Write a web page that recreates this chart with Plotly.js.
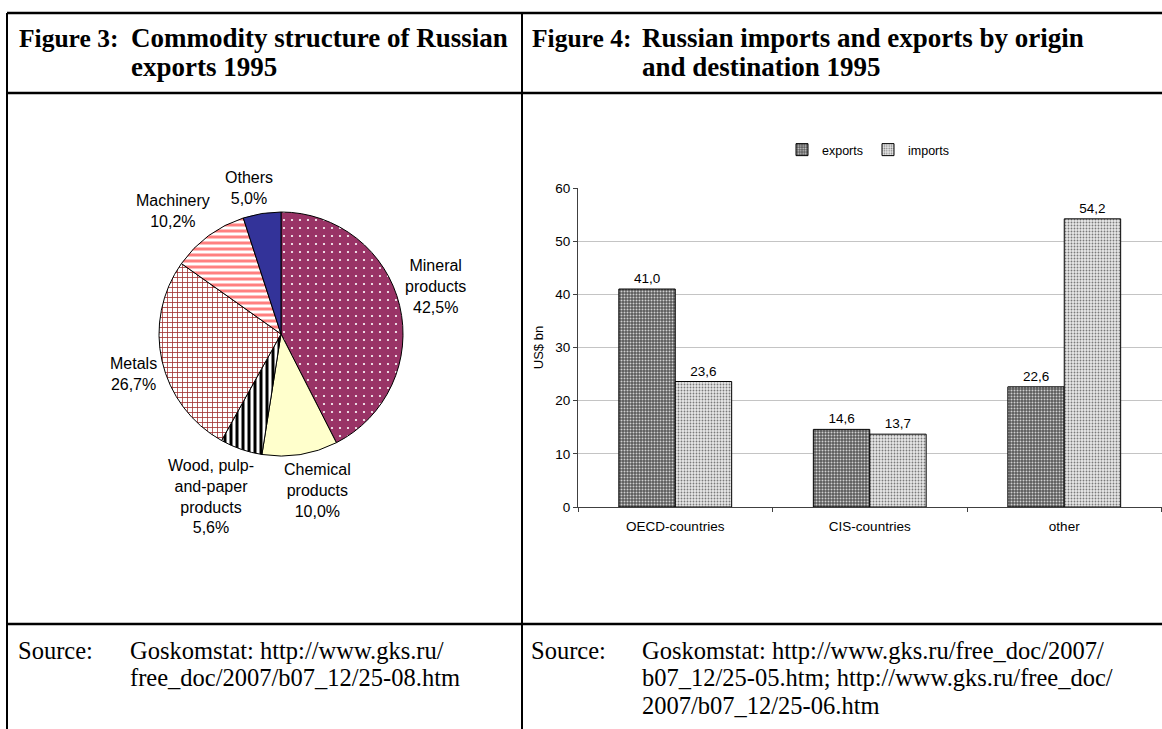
<!DOCTYPE html>
<html>
<head>
<meta charset="utf-8">
<script src="https://cdn.plot.ly/plotly-3.0.1.min.js"></script>
<style>
  html, body { margin: 0; padding: 0; background: #ffffff; }
  #chart { width: 1162px; height: 729px; }
</style>
</head>
<body>
<div id="chart"></div>
<script>
// ---------- data ----------
const pieLabels = ['Mineral<br>products', 'Chemical<br>products', 'Wood, pulp-<br>and-paper<br>products', 'Metals', 'Machinery', 'Others'];
const pieValues = [42.5, 10.0, 5.6, 26.7, 10.2, 5.0];

const barCategories = ['OECD-countries', 'CIS-countries', 'other'];
const exportsValues = [41.0, 14.6, 22.6];
const importsValues = [23.6, 13.7, 54.2];

const headerLeft = ['Figure 3:', 'Commodity structure of Russian', 'exports 1995'];
const headerRight = ['Figure 4:', 'Russian imports and exports by origin', 'and destination 1995'];
const sourceLeft = ['Source:', 'Goskomstat: http://www.gks.ru/', 'free_doc/2007/b07_12/25-08.htm'];
const sourceRight = ['Source:', 'Goskomstat: http://www.gks.ru/free_doc/2007/', 'b07_12/25-05.htm; http://www.gks.ru/free_doc/', '2007/b07_12/25-06.htm'];

// ---------- helpers ----------
const W = 1162, H = 729;
const px = x => x / W;
const py = y => 1 - y / H;
const comma = v => v.toFixed(1).replace('.', ',');

const SANS = 'Liberation Sans, Arial, sans-serif';
const SERIF = 'Liberation Serif, Times New Roman, serif';
const ctx = document.createElement('canvas').getContext('2d');

// pie geometry (pixels)
const PIE_CX = 281, PIE_CY = 334, PIE_R = 122;
const PIE_FONT = 16, PIE_LINE = 21;

// ---------- traces ----------
const pie = {
  type: 'pie',
  labels: pieLabels,
  values: pieValues,
  textinfo: 'none',
  sort: false,
  direction: 'clockwise',
  rotation: 0,
  showlegend: false,
  hoverinfo: 'skip',
  domain: { x: [px(PIE_CX - PIE_R), px(PIE_CX + PIE_R)], y: [py(PIE_CY + PIE_R), py(PIE_CY - PIE_R)] },
  marker: {
    colors: ['#993366', '#FFFFCC', '#ffffff', '#ffffff', '#ffffff', '#333399'],
    line: { color: '#000', width: 1 },
    pattern: {
      shape: ['.', '', '|', '+', '-', ''],
      bgcolor: ['#993366', '#FFFFCC', '#ffffff', '#ffffff', '#ffffff', '#333399'],
      fgcolor: ['#ffffff', '#FFFFCC', '#000000', '#a33333', '#ff8080', '#333399'],
      size: [8, 8, 6, 5, 6, 8],
      solidity: [0.06, 0.3, 0.5, 0.3, 0.5, 0.3],
      fillmode: 'replace'
    }
  }
};

const barExports = {
  type: 'bar',
  name: 'exports',
  x: barCategories,
  y: exportsValues,
  text: exportsValues.map(comma),
  texttemplate: '%{text}',
  textposition: 'outside',
  cliponaxis: false,
  textfont: { family: SANS, size: 13.5, color: '#000' },
  hoverinfo: 'skip',
  marker: {
    color: '#6e6e6e',
    line: { color: '#000', width: 1 },
    pattern: { shape: '.', bgcolor: '#5a5a5a', fgcolor: '#d0d0d0', size: 3, solidity: 0.35, fillmode: 'replace' }
  }
};

const barImports = {
  type: 'bar',
  name: 'imports',
  x: barCategories,
  y: importsValues,
  text: importsValues.map(comma),
  texttemplate: '%{text}',
  textposition: 'outside',
  cliponaxis: false,
  textfont: { family: SANS, size: 13.5, color: '#000' },
  hoverinfo: 'skip',
  marker: {
    color: '#cccccc',
    line: { color: '#000', width: 1 },
    pattern: { shape: '.', bgcolor: '#e8e8e8', fgcolor: '#7a7a7a', size: 3, solidity: 0.3, fillmode: 'replace' }
  }
};

// ---------- pie labels placed from slice mid-angles (label box just outside the rim) ----------
ctx.font = PIE_FONT + 'px "Liberation Sans", Arial, sans-serif';
const total = pieValues.reduce((a, b) => a + b, 0);
const shapeFn = x => Math.sign(x) * Math.pow(Math.abs(x), 0.38);
const pieAnnotations = [];
let cum = 0;
pieValues.forEach((v, i) => {
  const mid = (cum + v / 2) / total * 2 * Math.PI;
  cum += v;
  const lines = (pieLabels[i] + '<br>' + comma(v) + '%').split('<br>');
  const hw = Math.max(...lines.map(l => ctx.measureText(l).width)) / 2;
  const hh = lines.length * PIE_LINE / 2;
  const s = Math.sin(mid), c = Math.cos(mid);
  const m = Math.max(Math.abs(s), Math.abs(c));
  const rr = PIE_R + 5;
  const cx = PIE_CX + rr * s + hw * shapeFn(s / m);
  const cy = PIE_CY - rr * c - hh * shapeFn(c / m);
  pieAnnotations.push({
    text: lines.join('<br>'), xref: 'paper', yref: 'paper',
    x: px(cx), y: py(cy),
    xanchor: 'center', yanchor: 'middle', align: 'center', showarrow: false,
    font: { family: SANS, size: PIE_FONT, color: '#000' }
  });
});

// ---------- table frame ----------
function hline(y, w) {
  return { type: 'line', xref: 'paper', yref: 'paper', x0: px(7), x1: 1.01, y0: py(y), y1: py(y), line: { color: '#000', width: w } };
}
function vline(x, w) {
  return { type: 'line', xref: 'paper', yref: 'paper', x0: px(x), x1: px(x), y0: py(13), y1: -0.01, line: { color: '#000', width: w } };
}
const shapes = [hline(13, 2.5), hline(93, 2.5), hline(624, 2.5), vline(7, 2), vline(522, 2)];

// ---------- text annotations ----------
function txt(s, x, y, size, bold) {
  return {
    text: s, xref: 'paper', yref: 'paper', x: px(x), y: py(y),
    xanchor: 'left', yanchor: 'middle', showarrow: false,
    font: { family: SERIF, size: size, color: '#000', weight: bold ? 'bold' : 'normal' }
  };
}
const FF = 25.5, HF = 27, SF = 24.5;
const SY = [650, 677.5, 705];
const annotations = [
  txt(headerLeft[0], 17, 38, FF, true),
  txt(headerLeft[1], 129, 38, HF, true),
  txt(headerLeft[2], 129, 67, HF, true),
  txt(headerRight[0], 530, 38, FF, true),
  txt(headerRight[1], 640, 38, HF, true),
  txt(headerRight[2], 640, 67, HF, true),
  txt(sourceLeft[0], 16, SY[0], SF, false),
  txt(sourceLeft[1], 128, SY[0], SF, false),
  txt(sourceLeft[2], 128, SY[1], SF, false),
  txt(sourceRight[0], 529, SY[0], SF, false),
  txt(sourceRight[1], 640, SY[0], SF, false),
  txt(sourceRight[2], 640, SY[1], SF, false),
  txt(sourceRight[3], 640, SY[2], SF, false)
].concat(pieAnnotations);

// ---------- layout ----------
const layout = {
  width: W, height: H,
  margin: { l: 0, r: 0, t: 0, b: 0 },
  paper_bgcolor: '#ffffff',
  plot_bgcolor: '#ffffff',
  font: { family: SANS, color: '#000' },
  barmode: 'group',
  bargap: 0.42,
  bargroupgap: 0,
  showlegend: true,
  legend: {
    orientation: 'h', x: px(868), y: py(150), xanchor: 'center', yanchor: 'middle',
    font: { family: SANS, size: 12.5, color: '#000' },
    itemwidth: 30, bgcolor: 'rgba(0,0,0,0)', traceorder: 'normal'
  },
  xaxis: {
    domain: [px(578), px(1161.5)],
    type: 'category',
    tickson: 'boundaries',
    ticks: 'outside', ticklen: 4, tickcolor: '#404040',
    showline: true, linecolor: '#404040', linewidth: 1,
    tickfont: { family: SANS, size: 13.5, color: '#000' },
    ticklabelstandoff: 7,
    showgrid: false, zeroline: false, fixedrange: true
  },
  yaxis: {
    domain: [py(507), py(188)],
    range: [0, 60], dtick: 10,
    ticks: 'outside', ticklen: 4, tickcolor: '#404040',
    showline: true, linecolor: '#404040', linewidth: 1,
    showgrid: true, gridcolor: '#c4c4c4', gridwidth: 1,
    zeroline: false, fixedrange: true,
    tickfont: { family: SANS, size: 13.5, color: '#000' },
    title: { text: 'US$ bn', font: { family: SANS, size: 13, color: '#000' }, standoff: 8 }
  },
  shapes: shapes,
  annotations: annotations
};

Plotly.newPlot('chart', [pie, barExports, barImports], layout, { displayModeBar: false, staticPlot: true });
</script>
</body>
</html>
